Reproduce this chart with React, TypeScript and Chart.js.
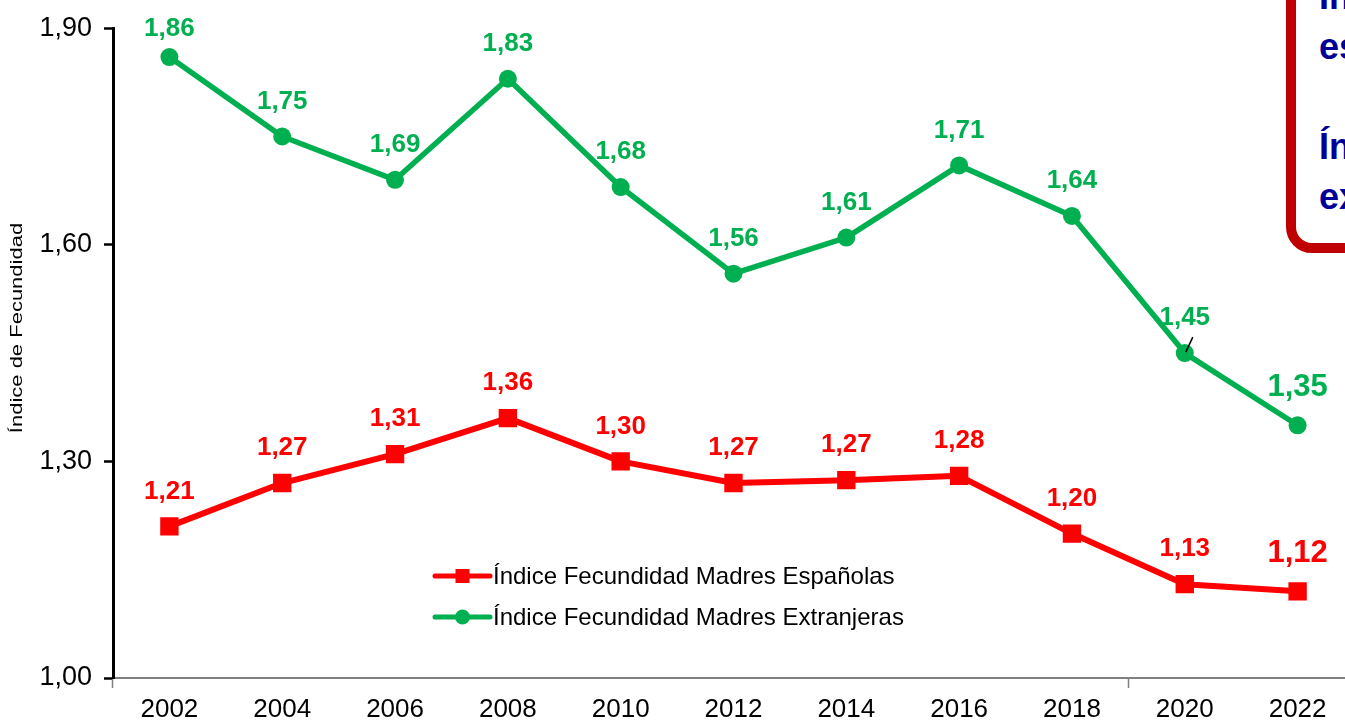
import React, { useEffect, useRef } from "react";
import { Chart, registerables } from "chart.js";

Chart.register(...registerables);

// ---- data ----
const years = ["2002", "2004", "2006", "2008", "2010", "2012", "2014", "2016", "2018", "2020", "2022"];
const spanishMothers = [1.21, 1.27, 1.31, 1.36, 1.3, 1.27, 1.274, 1.28, 1.2, 1.13, 1.12];
const foreignMothers = [1.86, 1.75, 1.69, 1.83, 1.68, 1.56, 1.61, 1.71, 1.64, 1.45, 1.35];
const yTickValues = [1.0, 1.3, 1.6, 1.9];
const seriesNames = ["Índice Fecundidad Madres Españolas", "Índice Fecundidad Madres Extranjeras"];
const yAxisTitle = "Índice de Fecundidad";
const calloutLines = ["Índice madres", "españolas: 1,12", "\u00a0", "Índice madres", "extranjeras: 1,35"];

const RED = "#FF0000";
const GREEN = "#00B050";
const FONT = "'Liberation Sans', Arial, Helvetica, sans-serif";

const fmt = (v: number) => v.toFixed(2).replace(".", ",");

const valueLabelsPlugin = {
  id: "valueLabels",
  afterDatasetsDraw(chart: any) {
    const ctx = chart.ctx;
    const top = chart.chartArea.top;
    ctx.save();
    chart.data.datasets.forEach((ds: any, di: number) => {
      const meta = chart.getDatasetMeta(di);
      const n = ds.data.length;
      meta.data.forEach((pt: any, i: number) => {
        const last = i === n - 1;
        const size = last ? 31 : 26;
        const off = last ? 38 : 35;
        const y = Math.max(pt.y - off, top + 1);
        ctx.font = `bold ${size}px ${FONT}`;
        ctx.fillStyle = ds.borderColor;
        ctx.textAlign = "center";
        ctx.textBaseline = "middle";
        ctx.fillText(fmt(ds.data[i]), pt.x, y);
        if (ds.leaderIndex === i) {
          ctx.strokeStyle = "#000";
          ctx.lineWidth = 1.5;
          ctx.beginPath();
          ctx.moveTo(pt.x + 1, pt.y - 1);
          ctx.lineTo(pt.x + 8, pt.y - 16);
          ctx.stroke();
        }
      });
    });
    ctx.restore();
  },
};

const legendPlugin = {
  id: "innerLegend",
  afterDraw(chart: any) {
    const ctx = chart.ctx;
    const x0 = 435;
    const x1 = 490;
    ctx.save();
    chart.data.datasets.forEach((ds: any, i: number) => {
      const y = 576 + i * 41;
      ctx.strokeStyle = ds.borderColor;
      ctx.lineWidth = 5;
      ctx.lineCap = "round";
      ctx.beginPath();
      ctx.moveTo(x0, y);
      ctx.lineTo(x1, y);
      ctx.stroke();
      ctx.fillStyle = ds.borderColor;
      const cx = (x0 + x1) / 2;
      if (ds.pointStyle === "rect") {
        ctx.fillRect(cx - 7, y - 7, 14, 14);
      } else {
        ctx.beginPath();
        ctx.arc(cx, y, 7.5, 0, Math.PI * 2);
        ctx.fill();
      }
      ctx.fillStyle = "#000";
      ctx.font = `24px ${FONT}`;
      ctx.textAlign = "left";
      ctx.textBaseline = "middle";
      ctx.fillText(ds.label, x1 + 3, y + 1);
    });
    ctx.restore();
  },
};

const axisTitlePlugin = {
  id: "axisTitle",
  afterDraw(chart: any) {
    const ctx = chart.ctx;
    ctx.save();
    ctx.translate(18, 328);
    ctx.rotate(-Math.PI / 2);
    ctx.scale(1, 0.72);
    ctx.font = `22px ${FONT}`;
    ctx.fillStyle = "#000";
    ctx.textAlign = "center";
    ctx.textBaseline = "middle";
    ctx.fillText(yAxisTitle, 0, 0);
    ctx.restore();
  },
};

export default function App() {
  const canvasRef = useRef<HTMLCanvasElement | null>(null);

  useEffect(() => {
    document.documentElement.style.overflow = "hidden";
    document.body.style.overflow = "hidden";
    document.body.style.margin = "0";
    const canvas = canvasRef.current;
    if (!canvas) return;
    Chart.defaults.font.family = FONT;
    const chart = new Chart(canvas, {
      type: "line",
      data: {
        labels: years,
        datasets: [
          {
            label: seriesNames[0],
            data: spanishMothers,
            borderColor: RED,
            backgroundColor: RED,
            borderWidth: 6,
            borderJoinStyle: "round",
            pointStyle: "rect",
            pointRadius: 13,
            pointBackgroundColor: RED,
            pointBorderWidth: 0,
            tension: 0,
          } as any,
          {
            label: seriesNames[1],
            data: foreignMothers,
            borderColor: GREEN,
            backgroundColor: GREEN,
            borderWidth: 5.5,
            borderJoinStyle: "round",
            pointStyle: "circle",
            pointRadius: 9,
            pointBackgroundColor: GREEN,
            pointBorderWidth: 0,
            tension: 0,
            leaderIndex: 9,
          } as any,
        ],
      },
      options: {
        responsive: false,
        animation: false,
        devicePixelRatio: 1,
        events: [],
        layout: { padding: { top: 25, right: 46, left: 0, bottom: 0 } },
        plugins: {
          legend: { display: false },
          tooltip: { enabled: false },
        },
        scales: {
          x: {
            type: "category",
            offset: true,
            grid: {
              offset: true,
              drawOnChartArea: false,
              drawTicks: true,
              tickLength: 10,
              tickWidth: 1.5,
              tickColor: (c: any) => (c.index === 0 || c.index === 9 ? "#808080" : "rgba(0,0,0,0)"),
            },
            border: { color: "#808080", width: 2 },
            ticks: {
              color: "#000",
              font: { size: 26 },
              padding: 6,
              maxRotation: 0,
              autoSkip: false,
            },
            afterFit: (s: any) => {
              s.height = 42;
            },
          },
          y: {
            min: 1.0,
            max: 1.9,
            grid: {
              drawOnChartArea: false,
              drawTicks: true,
              tickLength: 9,
              tickWidth: 2.5,
              tickColor: "#000",
            },
            border: { color: "#000", width: 3 },
            ticks: {
              color: "#000",
              font: { size: 27 },
              padding: 12,
              callback: (v: any) => fmt(Number(v)),
            },
            afterBuildTicks: (s: any) => {
              s.ticks = yTickValues.map((v) => ({ value: v }));
            },
            afterFit: (s: any) => {
              s.width = 113;
            },
          },
        },
      },
      plugins: [valueLabelsPlugin, legendPlugin, axisTitlePlugin],
    });
    return () => chart.destroy();
  }, []);

  return (
    <div style={{ position: "absolute", left: 0, top: 0, width: 1400, height: 720, overflow: "hidden" }}>
      <canvas ref={canvasRef} width={1400} height={720} style={{ width: 1400, height: 720, display: "block" }} />
      <div
        style={{
          position: "absolute",
          left: 1286,
          top: -60,
          width: 420,
          height: 313,
          boxSizing: "border-box",
          border: "10px solid #C00000",
          borderRadius: 26,
          background: "#fff",
        }}
      />
      <div
        style={{
          position: "absolute",
          left: 1319,
          top: -28,
          width: 400,
          font: `bold 36px ${FONT}`,
          lineHeight: "50px",
          color: "#000099",
          whiteSpace: "nowrap",
        }}
      >
        {calloutLines.map((l, i) => (
          <div key={i}>{l}</div>
        ))}
      </div>
    </div>
  );
}
